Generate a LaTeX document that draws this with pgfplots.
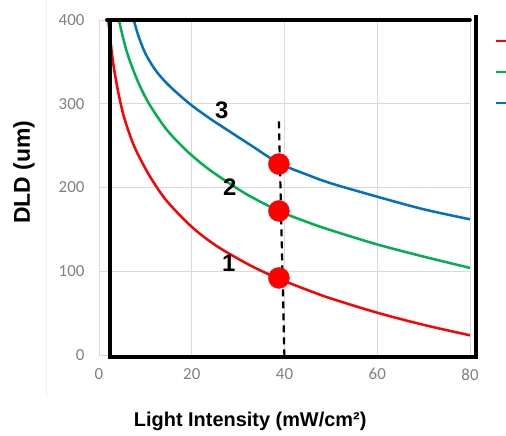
\documentclass[border=0pt]{standalone}
\usepackage{fontspec}
\setmainfont{Liberation Sans}
\newfontfamily\tickfont{Carlito}
\usepackage{pgfplots}
\pgfplotsset{compat=1.18}
\definecolor{xlred}{HTML}{FF0000}
\definecolor{xlgreen}{HTML}{00B050}
\definecolor{xlblue}{HTML}{0070C0}
\definecolor{gridgray}{HTML}{D9D9D9}
\definecolor{tickgray}{HTML}{808080}

\begin{document}
\begin{tikzpicture}
\begin{axis}[
  at={(0,0)}, anchor=south west,
  scale only axis, width=371bp, height=335bp,
  xmin=0, xmax=80, ymin=0, ymax=400,
  xtick={0,20,...,80}, ytick={0,100,...,400},
  grid=major, grid style={gridgray, line width=0.8bp},
  axis line style={draw=gridgray, line width=0.8bp},
  tick style={draw=none},
  ticklabel style={font=\tickfont\fontsize{17}{17}\selectfont, text=tickgray},
  /pgf/number format/assume math mode=true,
  yticklabel style={xshift=-11bp},
  xticklabel style={yshift=-10bp},
  clip=false,
  legend style={at={(rel axis cs:1.0674,0.9836)}, anchor=north west, draw=none, fill=none,
    row sep=0pt, inner sep=0pt,
    nodes={inner sep=0pt, minimum height=31bp, text width=0pt}},
  legend image code/.code={\draw[#1, line width=2.5bp] (0bp,0bp) -- (16bp,0bp);},
]
% faint chart-area border
\draw[gray!12, line width=0.8bp] (axis cs:-11.4,424) -- (axis cs:-11.4,-50);

% curves
\addplot[xlred, line width=2.5bp, smooth] coordinates {
  (2,400) (2.5,374) (3.1,347) (4,318) (5.2,288) (6.7,262) (8.1,243) (11,213)
  (14.6,184) (20,153) (25.4,130) (32.6,107) (38.8,91) (45,77.5) (50,67.5)
  (60,50.5) (70,36) (80,23.5)};
\addlegendentry{}
\addplot[xlgreen, line width=2.5bp, smooth] coordinates {
  (4.3,400) (5,383) (6,362) (7.4,340) (9,319) (11,298) (14.6,269) (18.5,246)
  (22,229) (25.4,215) (31.8,192) (38.8,172) (45,158.5) (50,149) (60,132)
  (70,117.5) (80,104)};
\addlegendentry{}
\addplot[xlblue, line width=2.5bp, smooth] coordinates {
  (7.5,400) (8.5,381) (10,360) (12,341.5) (14,328) (16.4,315) (20,298) (24,282)
  (28,267.5) (33,249.5) (38.8,229) (45,215) (50,205) (60,189) (70,174) (80,162)};
\addlegendentry{}

% black frame
\draw[black, line width=3.6bp, line cap=round] (axis cs:1.7,400) -- (axis cs:80,400);
\draw[black, line width=3.6bp] (axis cs:2.37,400) -- (axis cs:2.37,-2.4) -- (axis cs:81.3,-2.4) -- (axis cs:81.3,406);

% operating points
\addplot[only marks, mark=*, mark size=10.5bp, color=xlred, forget plot]
  coordinates {(38.8,92) (38.8,172) (38.8,228)};
\addplot[black, line width=2.2bp, dash pattern=on 7bp off 5bp, forget plot]
  coordinates {(38.8,279) (40,-6)};

\node[font=\bfseries\fontsize{24}{24}\selectfont] at (axis cs:26.5,292.5) {3};
\node[font=\bfseries\fontsize{24}{24}\selectfont] at (axis cs:28.2,200.6) {2};
\node[font=\bfseries\fontsize{24}{24}\selectfont] at (axis cs:28.0,110) {1};

\node[rotate=90, font=\bfseries\fontsize{23}{23}\selectfont] at (axis cs:-16.2,218.5) {DLD (um)};
\node[font=\bfseries\fontsize{20}{20}\selectfont] at (axis cs:32.6,-78.8) {Light Intensity (mW/cm²)};
\end{axis}
\pgfresetboundingbox
\path[use as bounding box] (-99bp,-81bp) rectangle (407bp,355bp);
\end{tikzpicture}
\end{document}
